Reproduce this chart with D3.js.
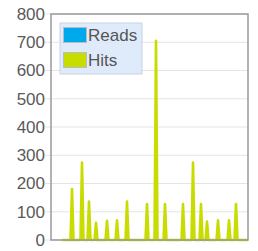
<!DOCTYPE html>
<html><head><meta charset="utf-8">
<script src="https://cdn.jsdelivr.net/npm/d3@7"></script>
<style>html,body{margin:0;padding:0;background:#fff;}svg{display:block;}</style>
</head><body>
<svg id="c" width="258" height="251"></svg>
<script>
// Data
const times = [22, 39, 42, 45, 59, 62, 65, 73, 76, 79, 87, 90, 93, 109, 112, 115, 129, 132, 135,
               149, 152, 155, 189, 192, 195, 207, 210, 213, 225, 228, 231, 261, 264, 267,
               281, 284, 287, 297, 300, 303, 309, 312, 315, 331, 334, 337, 353, 356, 359,
               367, 370, 373, 394];
const hits  = [0, 0, 180, 0, 0, 274, 0, 0, 136, 0, 0, 61, 0, 0, 68, 0, 0, 70, 0,
               0, 136, 0, 0, 127, 0, 0, 705, 0, 0, 127, 0, 0, 127, 0,
               0, 274, 0, 0, 127, 0, 0, 65, 0, 0, 70, 0, 0, 70, 0,
               0, 127, 0, 0];
const reads = times.map(() => 0);
const yTicks = [0, 100, 200, 300, 400, 500, 600, 700, 800];
const seriesNames = ["Reads", "Hits"];
const seriesColors = ["#00a9ec", "#c8dc00"];

const W = 258, H = 251;
const m = {l: 51, t: 14, r: 10, b: 11};
const svg = d3.select("#c");
const x = d3.scaleLinear().domain([0, 394]).range([m.l, W - m.r]);
const y = d3.scaleLinear().domain([0, 800]).range([H - m.b, m.t]);

// gridlines
svg.append("g").selectAll("line").data(yTicks).join("line")
  .attr("x1", m.l - 6).attr("x2", W - m.r)
  .attr("y1", d => y(d)).attr("y2", d => y(d))
  .attr("stroke", "#e4e4e4").attr("stroke-width", 1);

// axis labels
const ax = svg.append("g").attr("transform", `translate(${m.l},0)`)
  .call(d3.axisLeft(y).tickValues(yTicks).tickSize(0).tickPadding(6));
ax.select(".domain").remove();
ax.selectAll("text").attr("fill", "#5a5a5a").style("font-family", "Liberation Sans, Arial, sans-serif").style("font-size", "17px");

// series
const pts = times.map((t, i) => ({t, r: reads[i], h: hits[i]}));
const areaH = d3.area().x(d => x(d.t)).y0(y(0)).y1(d => y(d.h));
const lineR = d3.line().x(d => x(d.t)).y(d => y(d.r));
const lineH = d3.line().x(d => x(d.t)).y(d => y(d.h));
svg.append("path").datum(pts).attr("d", lineR).attr("fill", "none").attr("stroke", seriesColors[0]).attr("stroke-width", 2);
svg.append("path").datum(pts).attr("d", areaH).attr("fill", seriesColors[1]);
svg.append("path").datum(pts).attr("d", lineH).attr("fill", "none").attr("stroke", seriesColors[1]).attr("stroke-width", 2.6).attr("stroke-linejoin", "round");

// frame
svg.append("rect").attr("x", m.l).attr("y", m.t).attr("width", W - m.r - m.l).attr("height", H - m.b - m.t)
  .attr("fill", "none").attr("stroke", "#999").attr("stroke-width", 1.5);

// legend
const lg = svg.append("g");
lg.append("rect").attr("x", 60).attr("y", 23).attr("width", 82).attr("height", 51)
  .attr("fill", "#dbe9f9").attr("fill-opacity", 0.9).attr("stroke", "#c5d3e2");
seriesNames.forEach((n, i) => {
  lg.append("rect").attr("x", 63.5).attr("y", 27.5 + i * 25).attr("width", 23).attr("height", 15)
    .attr("fill", seriesColors[i]).attr("stroke", "#b5bec8").attr("stroke-width", 1);
  lg.append("text").attr("x", 88).attr("y", 41 + i * 25).text(n)
    .attr("fill", "#555").style("font-family", "Liberation Sans, Arial, sans-serif").style("font-size", "17px");
});
</script>
</body></html>
